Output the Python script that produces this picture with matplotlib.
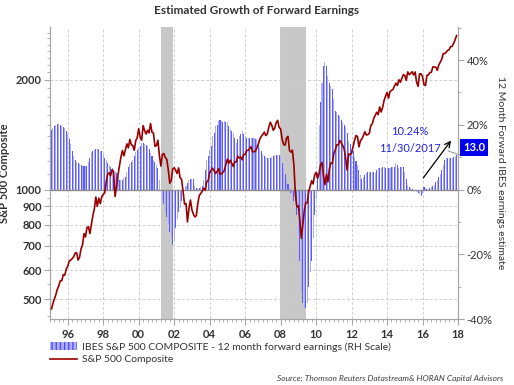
import numpy as np
import matplotlib
matplotlib.use("Agg")
import matplotlib.pyplot as plt
from matplotlib.ticker import FixedLocator, MultipleLocator, FuncFormatter, NullFormatter
from matplotlib.patches import Patch
from matplotlib.lines import Line2D

plt.rcParams['font.family'] = ['Lato', 'DejaVu Sans']
plt.rcParams['hatch.linewidth'] = 1.0

# S&P 500 month-end closes, Jan 1995 - Nov 2017
spx = [
    470, 487, 501, 515, 533, 545, 562, 562, 584, 582, 605, 616,
    636, 640, 646, 654, 669, 671, 640, 652, 687, 705, 757, 741,
    786, 791, 757, 801, 848, 885, 954, 899, 947, 915, 955, 970,
    980, 1049, 1102, 1112, 1091, 1134, 1121, 957, 1017, 1099, 1164, 1229,
    1280, 1238, 1286, 1335, 1302, 1373, 1329, 1320, 1283, 1363, 1389, 1469,
    1394, 1366, 1499, 1452, 1421, 1455, 1431, 1518, 1437, 1429, 1315, 1320,
    1366, 1240, 1160, 1249, 1256, 1224, 1211, 1134, 1041, 1060, 1139, 1148,
    1130, 1107, 1147, 1077, 1067, 990, 912, 916, 815, 886, 936, 880,
    856, 841, 848, 917, 964, 975, 990, 1008, 996, 1051, 1058, 1112,
    1131, 1145, 1126, 1107, 1121, 1141, 1102, 1104, 1115, 1130, 1174, 1212,
    1181, 1204, 1181, 1157, 1192, 1191, 1234, 1220, 1229, 1207, 1249, 1248,
    1280, 1281, 1295, 1311, 1270, 1270, 1277, 1304, 1336, 1378, 1401, 1418,
    1438, 1407, 1421, 1482, 1531, 1503, 1455, 1474, 1527, 1549, 1481, 1468,
    1379, 1331, 1323, 1386, 1400, 1280, 1267, 1283, 1165, 969, 896, 903,
    826, 735, 798, 873, 919, 919, 987, 1021, 1057, 1036, 1096, 1115,
    1074, 1104, 1169, 1187, 1089, 1031, 1102, 1049, 1141, 1183, 1181, 1258,
    1286, 1327, 1326, 1364, 1345, 1321, 1292, 1219, 1131, 1253, 1247, 1258,
    1312, 1366, 1408, 1398, 1310, 1362, 1379, 1407, 1441, 1412, 1416, 1426,
    1498, 1515, 1569, 1598, 1631, 1606, 1686, 1633, 1682, 1757, 1806, 1848,
    1783, 1859, 1872, 1884, 1924, 1960, 1931, 2003, 1972, 2018, 2068, 2059,
    1995, 2105, 2068, 2086, 2107, 2063, 2104, 1972, 1920, 2079, 2080, 2044,
    1940, 1932, 2060, 2065, 2097, 2099, 2174, 2171, 2168, 2126, 2199, 2239,
    2279, 2364, 2363, 2384, 2412, 2423, 2470, 2472, 2519, 2575, 2648,
]

# 12 month forward earnings growth (%), same months
growth = [
    18.5, 19, 19.5, 20, 20.2, 20.2, 20, 19.5, 19.2, 19, 18, 17,
    15.7, 14, 11.8, 10.5, 9.1, 8.5, 8.2, 8, 7.6, 7.4, 7.2, 7.2,
    7.2, 8.5, 9.7, 11.5, 12, 12.3, 12.5, 12.5, 12.5, 12, 11.8, 11,
    9.7, 9, 8.2, 7.5, 7, 6.6, 6, 5.5, 5, 4, 2.9, 2.9,
    2.9, 3.5, 4, 5.5, 7, 8, 8.5, 9.1, 10.5, 11.5, 12.3, 12.8,
    13.5, 14.4, 14.4, 14, 13.8, 13.3, 12.5, 11.3, 10.5, 9.1, 8.5, 7.5,
    6.6, 3, 0, -2.9, -4.5, -6.6, -8.5, -10.8, -13, -15, -17, -16,
    -11.9, -9, -7, -5.6, -3.5, -1.9, -0.5, 1.2, 2, 2.9, 3.2, 3.4,
    3.4, 1, 0.5, 0.5, 0.5, 0.8, 1.2, 3, 6, 9.1, 10.5, 12.3,
    13.5, 16.5, 17.5, 19.6, 20, 21.2, 21.5, 21.2, 20.7, 21.2, 20.7, 20.7,
    19.5, 18.6, 18, 17.5, 16, 14.4, 15.5, 16.5, 17, 18, 17, 16.5,
    16, 16, 16, 16, 16, 15.8, 15.6, 15.6, 14.5, 12.8, 12, 11,
    10.2, 10, 9.8, 9.7, 9.7, 10, 10.5, 10.7, 10.7, 10.7, 10.7, 10,
    8.1, 6.5, 4.9, 3.5, 1.8, 0.5, -1, -1.9, -3.5, -4.5, -8, -14,
    -22, -31.8, -35, -37, -36.5, -35, -30, -25.5, -22, -15, -8, -3,
    5, 20, 27, 33, 38, 39.4, 38, 35, 33, 32, 31, 28,
    24.4, 23.8, 23, 22.8, 21.5, 20.7, 20, 19.2, 17.5, 15, 14, 12.5,
    11.8, 10, 8.7, 7.5, 6, 4.5, 3.4, 3.8, 4.4, 5, 5.5, 5.5,
    5.4, 5.5, 5.4, 5, 6, 6.5, 6.6, 6.5, 7, 6.8, 6.5, 6.5,
    6.5, 6.5, 7, 7, 7, 8.1, 7.5, 6.5, 7, 7, 7, 5.5,
    3.4, 1.5, 0.7, 0.5, 0.2, 0, -0.3, -0.8, -1, -1.4, -1.9, -1.5,
    0.7, 0.5, 0.2, 0.2, 0.5, 0.7, 1.2, 1.5, 2.3, 3, 4, 4.9,
    6, 7.7, 9.1, 9.7, 9.7, 9.7, 9.7, 9.7, 10, 10.5, 10.7,
]

recessions = [(2001.23, 2001.91), (2007.99, 2009.42)]
year_ticks = list(range(1996, 2019, 2))
left_ticks = [500, 600, 700, 800, 900, 1000, 2000]
right_ticks = [-40, -20, 0, 20, 40]

t = 1995 + (np.arange(len(spx)) + 1) / 12.0
txt = '#333333'
spine_c = '#a6a6a6'

fig = plt.figure(figsize=(5.14, 3.85), dpi=100)
ax = fig.add_axes([50/514, 1-319/385, 408/514, 292/385])
ax2 = ax.twinx()
ax.set_zorder(ax2.get_zorder() + 1)
ax.patch.set_visible(False)

# bars (right scale)
for a, b in recessions:
    ax2.axvspan(a, b, color='#c8c8c8', lw=0, zorder=0)
cols = ['#5c5cff' if i % 2 == 0 else '#acacff' for i in range(len(growth))]
ax2.bar(t, growth, width=0.72/12, color=cols, lw=0, zorder=2)
ax2.axhline(0, color='#8c8c8c', lw=1.0, zorder=3)
ax2.set_ylim(-40, 50.2)
ax2.yaxis.set_major_locator(FixedLocator(right_ticks))
ax2.yaxis.set_minor_locator(MultipleLocator(10))
ax2.yaxis.set_major_formatter(FuncFormatter(lambda v, p: f"{v:.0f}%"))
ax2.tick_params(axis='y', which='major', length=4, color=spine_c, labelsize=8,
                labelcolor=txt, pad=2)
ax2.tick_params(axis='y', which='minor', length=2, color=spine_c)
ax2.set_ylabel("12 Month Forward IBES earnings estimate", rotation=270,
               fontsize=7.5, color=txt)
ax2.yaxis.set_label_coords(1.115, 0.5)

# grid drawn under the line and over the shading
for v in left_ticks:
    ax2.plot([0, 1], [v, v], transform=ax.get_yaxis_transform(), color='#cfcfcf',
             lw=0.7, ls=(0, (3, 2)), zorder=1)
for yv in year_ticks:
    ax2.axvline(yv, color='#cfcfcf', lw=0.7, ls=(0, (3, 2)), zorder=1)

# S&P line (left scale)
ax.plot(t, spx, color='#990000', lw=1.2, zorder=5)
ax.set_yscale('log')
ax.set_ylim(441, 2796)
ax.set_xlim(1995, 2018)
ax.yaxis.set_major_locator(FixedLocator(left_ticks))
ax.yaxis.set_major_formatter(FuncFormatter(lambda v, p: f"{v:.0f}"))
ax.yaxis.set_minor_locator(FixedLocator(list(range(450, 1000, 50)) + list(range(1100, 2800, 100))))
ax.yaxis.set_minor_formatter(NullFormatter())
ax.tick_params(axis='y', which='major', length=4, color=spine_c, labelsize=8,
               labelcolor=txt, pad=2)
for lab in ax.get_yticklabels():
    lab.set_fontweight('bold')
ax.tick_params(axis='y', which='minor', length=2, color=spine_c)
ax.set_ylabel("S&P 500 Composite", fontsize=8, fontweight='bold', color=txt)
ax.yaxis.set_label_coords(-0.098, 0.5)

ax.xaxis.set_major_locator(FixedLocator(year_ticks))
ax.xaxis.set_minor_locator(MultipleLocator(0.25))
ax.xaxis.set_major_formatter(FuncFormatter(lambda v, p: f"{int(round(v)) % 100:02d}"))
ax.tick_params(axis='x', which='major', length=4, color=spine_c, labelsize=8,
               labelcolor=txt, pad=3)
ax.tick_params(axis='x', which='minor', length=2, color=spine_c)
for lab in ax.get_xticklabels():
    lab.set_fontweight('bold')

for a in (ax, ax2):
    a.spines['top'].set_visible(False)
    for s in ('left', 'right', 'bottom'):
        a.spines[s].set_color(spine_c)

# annotations
ax2.text(2015.29, 17.8, "10.24%", color='#2222ee', fontsize=8, ha='center', va='center', zorder=6)
ax2.text(2015.29, 12.8, "11/30/2017", color='#2222ee', fontsize=8, ha='center', va='center', zorder=6)
ax2.annotate("", xy=(2017.7, 15.8), xytext=(2015.95, 2.9),
             arrowprops=dict(arrowstyle='->', color='black', lw=0.9), zorder=6)
ax2.plot([2017.45, 2018.15], [11.9, 10.6], color='#999999', lw=0.8, clip_on=False, zorder=6)
ax2.text(1.04, 13.0, "13.0", transform=ax2.get_yaxis_transform(), color='white',
         fontsize=8, fontweight='bold', ha='center', va='center',
         bbox=dict(boxstyle='square,pad=0.25', fc='#0000ee', ec='none'), zorder=7)

fig.text(0.5, 1-11/385, "Estimated Growth of Forward Earnings", ha='center', va='center',
         fontsize=8.5, fontweight='bold', color=txt)

handles = [Patch(facecolor='#b0b0ff', edgecolor='#4b4bff', hatch='||||', lw=0),
           Line2D([0], [0], color='#990000', lw=1.2)]
labels = ["IBES S&P 500 COMPOSITE - 12 month forward earnings (RH Scale)", "S&P 500 Composite"]
fig.legend(handles, labels, loc='upper left', bbox_to_anchor=(50/514, 1-342/385),
           frameon=False, fontsize=7.5, handlelength=2.6, handleheight=0.8,
           handletextpad=0.5, labelspacing=0.3, borderaxespad=0, borderpad=0,
           labelcolor=txt)

fig.text(503/514, 1-379/385, "Source: Thomson Reuters Datastream& HORAN Capital Advisors",
         ha='right', va='center', fontsize=6, style='italic', color='#404040')

fig.savefig("out.png", dpi=100)
